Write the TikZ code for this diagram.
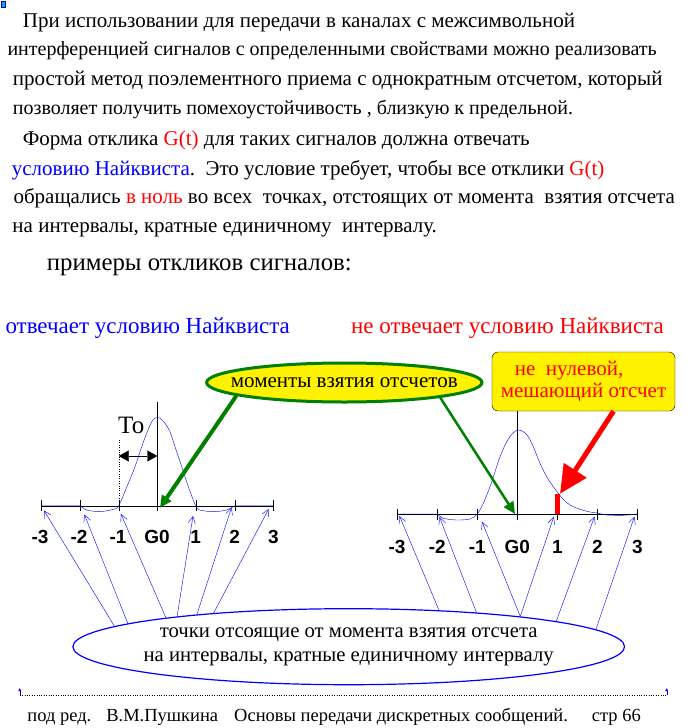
\documentclass[tikz,border=0pt]{standalone}
\usepackage{fontspec}
\setmainfont{Liberation Serif}
\setsansfont{Liberation Sans}
\usetikzlibrary{arrows.meta,positioning,shapes.geometric}

\begin{document}
\begin{tikzpicture}[x=1pt,y=-1pt,
	txt/.style={anchor=base west, inner sep=0pt, font=\fontsize{21}{24}\selectfont},
	tick/.style={inner sep=0pt, font=\sffamily\bfseries\fontsize{19}{22}\selectfont},
	pointer/.style={blue, -{Straight Barb[length=7pt,width=7pt]}},
	sample/.style={green!50!black, -{Triangle[length=12pt,width=11pt]}}]
		\useasboundingbox (0,0) rectangle (687,728);
		\draw[blue!60!black, fill=cyan] (1,1) rectangle (5,7);

		\node[txt] (t1) at (22.7,27.3) {При использовании для передачи в каналах с межсимвольной};
		\node[txt, font=\fontsize{20}{24}\selectfont] (t2) at (7.3,55.5) {интерференцией сигналов с определенными свойствами можно реализовать};
		\node[txt] (t3) at (12.7,85) {простой метод поэлементного приема с однократным отсчетом, который};
		\node[txt, font=\fontsize{20}{24}\selectfont] (t4) at (12.7,114) {позволяет получить помехоустойчивость , близкую к предельной.};
		\node[txt] (t5) at (22.7,145) {Форма отклика {\color{red}G(t)} для таких сигналов должна отвечать};
		\node[txt] (t6) at (11.7,175) {{\color{blue}условию Найквиста}.\ \ Это условие требует, чтобы все отклики {\color{red}G(t)}};
		\node[txt] (t7) at (13.3,203.5) {обращались {\color{red}в ноль} во всех\ \ точках, отстоящих от момента\ \ взятия отсчета};
		\node[txt] (t8) at (12.3,232.5) {на интервалы, кратные единичному\ \ интервалу.};
		\node[txt, font=\fontsize{24.8}{28}\selectfont] (ex) at (46.7,270) {примеры откликов сигналов:};

		\node[txt, blue, font=\fontsize{23}{26}\selectfont] (ok) at (5.3,333.3) {отвечает условию Найквиста};
		\node[txt, red, font=\fontsize{23}{26}\selectfont] (notok) at (350.9,333.3) {не отвечает условию Найквиста};

		\node[ellipse, draw=green!50!black, line width=3pt, fill=yellow, minimum width=273pt, minimum height=39pt, inner xsep=-16pt, inner ysep=0pt, font=\fontsize{21}{24}\selectfont] (moments) at (344.3,382.5) {моменты взятия отсчетов};
		\node[draw, fill=yellow, rounded corners=6pt, minimum width=183pt, minimum height=59pt, inner sep=2pt, align=left, text=red, font=\fontsize{21}{21.7}\selectfont] (bad) at (583.5,381.5) {\hspace*{14pt}не\ \ нулевой,\\мешающий отсчет};

		% left response
		\draw (41,505.7) -- (273.3,505.7);
		\draw (41,500) -- (41,511);
		\draw (80.3,500) -- (80.3,511);
		\draw (118.7,500) -- (118.7,511);
		\draw (195.7,500) -- (195.7,511);
		\draw (234.7,500) -- (234.7,511);
		\draw (273.3,500) -- (273.3,511);
		\draw (157.3,401.7) -- (157.3,511);
		\draw[dotted] (118.7,440) -- (118.7,505.7);
		\draw[blue] (41,505.7) -- (80.3,505.7) plot[smooth, tension=0.5] coordinates {(80.3,505.7) (86.7,510) (100,511.7) (113.3,509.3) (118.7,505.7) (128.3,483.3) (135,466.7) (141.7,446.7) (146.7,433.3) (151.7,421.7) (156,417.7) (159.3,417.7) (165,423.3) (170,431.7) (175,446.7) (181.7,466.7) (188.3,486.7) (195.7,505.7) (200,510) (213.3,511.7) (226.7,510) (234.7,505.7)} -- (273.3,505.7);
		\coordinate (tl) at (118.7,456);
		\coordinate (tr) at (157.3,456);
		\draw[{Triangle[length=10pt,width=11pt]}-{Triangle[length=10pt,width=11pt]}] (tl) -- (tr);
		\node[font=\fontsize{25}{28}\selectfont, anchor=base west, inner sep=0pt] (To) at (118,433.3) {To};

		\node[tick] (lm3) at (40,537) {-3};
		\node[tick] (lm2) at (79,537) {-2};
		\node[tick] (lm1) at (118,537) {-1};
		\node[tick] (lg0) at (157,537) {G0};
		\node[tick] (lp1) at (195.7,537) {1};
		\node[tick] (lp2) at (234.7,537) {2};
		\node[tick] (lp3) at (273.3,537) {3};

		% right response
		\draw (397.3,514) -- (637.3,514);
		\draw (397.3,509) -- (397.3,520);
		\draw (437.3,509) -- (437.3,520);
		\draw (477.3,509) -- (477.3,520);
		\draw (557.3,509) -- (557.3,520);
		\draw (597.3,509) -- (597.3,520);
		\draw (637.3,509) -- (637.3,520);
		\draw (517.3,520) -- (517.3,410.7);
		\draw[blue] (397.3,514) -- (437.3,514) plot[smooth, tension=0.5] coordinates {(437.3,514) (443.3,518.3) (456.7,520) (470,519) (477.3,514) (483.3,503.3) (490,486.7) (495,471.7) (500,456.7) (506.7,441.7) (513.3,432.7) (518.3,430) (523.3,431.7) (528.3,436.7) (533.3,446.7) (540,463.3) (546.7,476.7) (553.3,486.7) (558.3,493.3) (563.3,499.3) (570,505) (580,509.3) (590,512) (597.3,513) (606.7,515) (623.3,515.3) (637.3,514)};
		\node[fill=red, minimum width=5pt, minimum height=20pt, inner sep=0pt] (bar) at (557.3,504) {};

		\node[tick] (rm3) at (397,547.3) {-3};
		\node[tick] (rm2) at (437.3,547.3) {-2};
		\node[tick] (rm1) at (477.3,547.3) {-1};
		\node[tick] (rg0) at (517.3,547.3) {G0};
		\node[tick] (rp1) at (557.3,547.3) {1};
		\node[tick] (rp2) at (597.3,547.3) {2};
		\node[tick] (rp3) at (637.3,547.3) {3};

		\coordinate (lhit) at (160,507.7);
		\coordinate (rhit) at (515,514);
		\draw[sample, line width=4pt] (moments.187.7) -- (lhit);
		\draw[sample, line width=2.5pt] (moments.351.6) -- (rhit);
		\draw[red, line width=5pt, -{Triangle[length=28pt,width=26pt]}] ([xshift=30pt]bad.south) -- (bar.north east);

		% points at whole intervals
		\node[ellipse, draw=blue, line width=1.2pt, minimum width=550pt, minimum height=76pt, inner xsep=-10pt, inner ysep=0pt, align=center, font=\fontsize{20.7}{23.4}\selectfont] (pts) at (348.7,646.7) {точки отсоящие от момента взятия отсчета\\на интервалы, кратные единичному интервалу};
		\coordinate (a1) at (44,510.5);
		\coordinate (a2) at (84.4,514.5);
		\coordinate (a3) at (121,514);
		\coordinate (a4) at (193,516);
		\coordinate (a5) at (231.5,507.5);
		\coordinate (a6) at (268.7,509);
		\coordinate (b1) at (399.5,516);
		\coordinate (b2) at (439.5,517);
		\coordinate (b3) at (482,521.7);
		\coordinate (b4) at (553.8,516.7);
		\coordinate (b5) at (594.5,516.7);
		\coordinate (b6) at (634.4,516.7);
		\draw[pointer] (pts.175.9) -- (a1);
		\draw[pointer] (pts.174.7) -- (a2);
		\draw[pointer] (pts.171.5) -- (a3);
		\draw[pointer] (pts.170.9) -- (a4);
		\draw[pointer] (pts.168.9) -- (a5);
		\draw[pointer] (pts.166.6) -- (a6);
		\draw[pointer] (pts.22.6) -- (b1);
		\draw[pointer] (pts.15.6) -- (b2);
		\draw[pointer] (pts.10.7) -- (b3);
		\draw[pointer] (pts.10) -- (b4);
		\draw[pointer] (pts.7.3) -- (b5);
		\draw[pointer] (pts.4.7) -- (b6);

		% footer
		\coordinate (fl) at (19.7,695);
		\coordinate (fr) at (666.7,695);
		\draw[dotted] (fl) -- (fr);
		\draw[blue, -{Latex[length=3pt,width=3pt]}] (fl) -- ++(0,-7);
		\draw[blue, -{Latex[length=3pt,width=3pt]}] (fr) -- ++(0,-7);
		\node[txt, font=\fontsize{18.5}{20}\selectfont] (foot) at (27.2,721.7) {под ред.\hspace{15pt}В.М.Пушкина\hspace{16pt}Основы передачи дискретных сообщений.\hspace{24pt}стр 66};
	\end{tikzpicture}
\end{document}
